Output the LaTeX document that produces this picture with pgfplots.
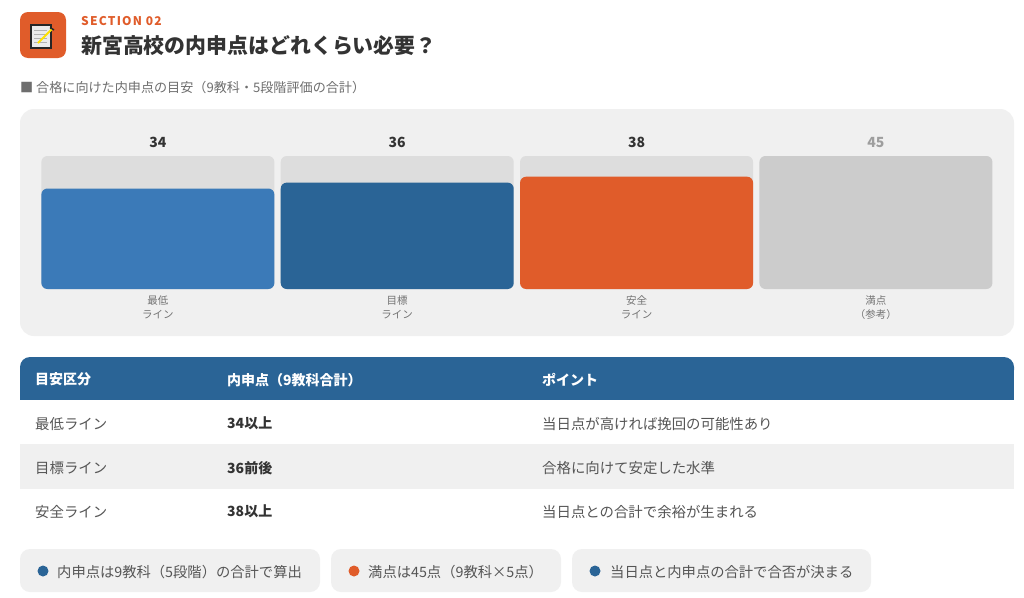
\documentclass[border=0pt]{standalone}
\usepackage{fontspec}
\setmainfont{Noto Sans CJK JP}
\newfontfamily\secfont[LetterSpace=10]{Noto Sans CJK JP}
\usepackage{pgfplots}
\pgfplotsset{compat=1.18}
\definecolor{cLight}{HTML}{3B7AB8}
\definecolor{cDark}{HTML}{2A6496}
\definecolor{cOrange}{HTML}{E05C2A}
\definecolor{cTrack}{HTML}{DDDDDD}
\definecolor{cFull}{HTML}{CCCCCC}
\definecolor{cPanel}{HTML}{F0F0F0}
\definecolor{cText}{HTML}{333333}
\definecolor{cSub}{HTML}{555555}
\newcommand{\fs}[1]{\fontsize{#1}{#1}\selectfont}
\begin{document}
\begin{tikzpicture}[x=1pt,y=-1pt]
\useasboundingbox (0,0) rectangle (1024,597);
\fill[white] (0,0) rectangle (1024,597);
% icon
\fill[cOrange,rounded corners=8pt] (20,12) rectangle (66,58);
\fill[white!92!black,draw=black!85,line width=1.2pt] (31,25) rectangle (51,48);
\foreach \yy in {30,34,38,42}{\draw[black!30,line width=0.7pt] (34,\yy) -- (47,\yy);}
\draw[yellow!85!orange,line width=2pt] (38,43) -- (52,29);
\draw[black!85,line width=1.5pt] (50,27.5) -- (54,30);
% heading
\node[anchor=west,inner sep=0,text=cOrange,font=\fs{12}\secfont\bfseries] at (81,21.5) {SECTION 02};
\node[anchor=west,inner sep=0,text=cText,font=\fs{20.9}\bfseries] at (81,45.5) {新宮高校の内申点はどれくらい必要？};
\node[anchor=west,inner sep=0,text=cSub!85!white,font=\fs{13.1}] at (20,87.7) {■ 合格に向けた内申点の目安（9教科・5段階評価の合計）};
% panel
\fill[cPanel,rounded corners=14pt] (20,109) rectangle (1014,336);
% table
\fill[cDark,rounded corners=10pt] (20,357) rectangle (1014,380);
\fill[cDark] (20,370) rectangle (1014,400);
\fill[cPanel] (20,444) rectangle (1014,488);
\draw[cPanel,line width=0.8pt] (20,444) -- (1014,444) (20,488) -- (1014,488);
\foreach \xx/\tt in {35/目安区分,227/内申点（9教科合計）,542/ポイント}{
  \node[anchor=west,inner sep=0,text=white,font=\fs{14}\bfseries] at (\xx,379.7) {\tt};}
\foreach \yy/\aa/\bb/\cc in {423.7/最低ライン/34以上/当日点が高ければ挽回の可能性あり,
  467.7/目標ライン/36前後/合格に向けて安定した水準,
  511.7/安全ライン/38以上/当日点との合計で余裕が生まれる}{
  \node[anchor=west,inner sep=0,text=cSub,font=\fs{14.4}] at (35,\yy) {\aa};
  \node[anchor=west,inner sep=0,text=cText,font=\fs{14}\bfseries] at (227,\yy) {\bb};
  \node[anchor=west,inner sep=0,text=cSub,font=\fs{14.4}] at (542,\yy) {\cc};}
% chips
\fill[cPanel,rounded corners=10pt] (20,549) rectangle (320,592);
\fill[cPanel,rounded corners=10pt] (331,549) rectangle (561,592);
\fill[cPanel,rounded corners=10pt] (572,549) rectangle (871,592);
\fill[cDark] (43,571) circle (5.5);
\fill[cOrange] (354,571) circle (5.5);
\fill[cDark] (595,571) circle (5.5);
\node[anchor=west,inner sep=0,text=cSub,font=\fs{14.3}] at (57,572) {内申点は9教科（5段階）の合計で算出};
\node[anchor=west,inner sep=0,text=cSub,font=\fs{14.3}] at (368,572) {満点は45点（9教科×5点）};
\node[anchor=west,inner sep=0,text=cSub,font=\fs{14.3}] at (610,572) {当日点と内申点の合計で合否が決まる};
% chart
\begin{axis}[
  at={(38.2pt,-289pt)},anchor=south west,
  scale only axis,width=957.4pt,height=133pt,
  xmin=-0.5,xmax=3.5,ymin=0,ymax=45,
  clip=false,
  ybar,bar width=233pt,bar shift=0pt,
  axis line style={draw=none},
  major tick length=0pt,
  xtick={0,1,2,3},
  xticklabels={{最低\\ライン},{目標\\ライン},{安全\\ライン},{満点\\（参考）}},
  xticklabel style={align=center,text=black!55,font=\fontsize{10.5}{14}\selectfont,yshift=-3pt},
  ytick=\empty,
  point meta=explicit symbolic,
  every node near coord/.append style={anchor=center,yshift=13.3pt,font=\fs{14}\bfseries,text=cText},
]
\addplot[fill=cTrack,draw=none,rounded corners=6pt,nodes near coords] coordinates {(0,45)[34] (1,45)[36] (2,45)[38]};
\addplot[fill=cFull,draw=none,rounded corners=6pt,nodes near coords,every node near coord/.append style={text=black!38}] coordinates {(3,45)[45]};
\addplot[fill=cLight,draw=none,rounded corners=6pt] coordinates {(0,34)};
\addplot[fill=cDark,draw=none,rounded corners=6pt] coordinates {(1,36)};
\addplot[fill=cOrange,draw=none,rounded corners=6pt] coordinates {(2,38)};
\end{axis}
\end{tikzpicture}
\end{document}
